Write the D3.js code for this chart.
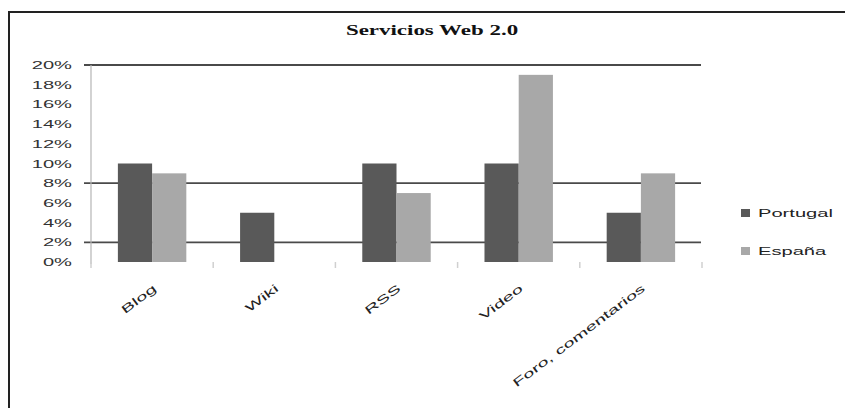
<!DOCTYPE html>
<html>
<head>
<meta charset="utf-8">
<script src="https://cdn.jsdelivr.net/npm/d3@7"></script>
<style>
  html, body { margin: 0; padding: 0; background: #fff; }
  svg { display: block; }
</style>
</head>
<body>
<svg id="chart" width="845" height="408"></svg>
<script>
const title = "Servicios Web 2.0";
const categories = ["Blog", "Wiki", "RSS", "Video", "Foro, comentarios"];
const seriesNames = ["Portugal", "España"];
const portugal = [0.10, 0.05, 0.10, 0.10, 0.05];
const espana = [0.09, 0.00, 0.07, 0.19, 0.09];
const yTicks = [0, 0.02, 0.04, 0.06, 0.08, 0.10, 0.12, 0.14, 0.16, 0.18, 0.20];
const gridValues = [0.02, 0.08, 0.20];
const colors = ["#595959", "#a8a8a8"];

const svg = d3.select("#chart");
const W = 845, H = 408;
svg.append("rect").attr("width", W).attr("height", H).attr("fill", "#fff");

// outer chart border
svg.append("rect")
  .attr("x", 9).attr("y", 12).attr("width", 860).attr("height", 420)
  .attr("fill", "none").attr("stroke", "#222").attr("stroke-width", 2);

const x0 = d3.scaleBand().domain(categories).range([91, 702]).paddingInner(0.44).paddingOuter(0.22);
const x1 = d3.scaleBand().domain(seriesNames).range([0, x0.bandwidth()]);
const y = d3.scaleLinear().domain([0, 0.2]).range([262, 65]);

const SX = 1.75;

// title
svg.append("text")
  .attr("transform", `translate(432,35) scale(1.53,1)`)
  .attr("text-anchor", "middle")
  .attr("font-family", "'Liberation Serif', 'DejaVu Serif', serif")
  .attr("font-weight", "bold")
  .attr("font-size", 15)
  .attr("fill", "#111")
  .text(title);

// gridlines
svg.append("g").selectAll("line").data(gridValues).join("line")
  .attr("x1", 84).attr("x2", 701)
  .attr("y1", d => y(d)).attr("y2", d => y(d))
  .attr("stroke", "#4a4a4a").attr("stroke-width", 1.8);

// y axis line
svg.append("line")
  .attr("x1", 91).attr("x2", 91).attr("y1", y(0.2)).attr("y2", y(0) + 2)
  .attr("stroke", "#b5b5b5").attr("stroke-width", 1.2);

// y labels
svg.append("g").selectAll("text").data(yTicks).join("text")
  .attr("transform", d => `translate(72,${y(d) + 4}) scale(${SX},1)`)
  .attr("text-anchor", "end")
  .attr("font-family", "'Liberation Sans', Arial, sans-serif")
  .attr("font-size", 11.5)
  .attr("fill", "#333")
  .text(d => d3.format(".0%")(d));

// x tick marks (category boundaries)
const bounds = categories.map((c, i) => x0.step() * (i + 1) + 91);
svg.append("g").selectAll("line").data([91, ...bounds]).join("line")
  .attr("x1", d => d).attr("x2", d => d)
  .attr("y1", y(0)).attr("y2", y(0) + 6)
  .attr("stroke", "#d0d0d0").attr("stroke-width", 1.5);

// bars
const seriesData = [portugal, espana];
const groups = svg.append("g").selectAll("g").data(seriesData).join("g")
  .attr("fill", (d, i) => colors[i]);
groups.each(function(vals, si) {
  d3.select(this).selectAll("rect").data(vals).join("rect")
    .attr("x", (v, ci) => x0(categories[ci]) + x1(seriesNames[si]))
    .attr("width", x1.bandwidth())
    .attr("y", v => y(v))
    .attr("height", v => y(0) - y(v));
});

// x labels
svg.append("g").selectAll("text").data(categories).join("text")
  .attr("transform", d => `translate(${x0(d) + x0.bandwidth() / 2 + 5},${y(0) + 28}) rotate(-37) scale(${SX},1)`)
  .attr("text-anchor", "end")
  .attr("font-family", "'Liberation Sans', Arial, sans-serif")
  .attr("font-size", 11.5)
  .attr("fill", "#222")
  .text(d => d);

// legend
const leg = svg.append("g").selectAll("g").data(seriesNames).join("g")
  .attr("transform", (d, i) => `translate(741,${213 + i * 38})`);
leg.append("rect").attr("x", 0).attr("y", -4).attr("width", 9).attr("height", 8)
  .attr("fill", (d, i) => colors[i]);
leg.append("text")
  .attr("transform", `translate(17,4) scale(${SX},1)`)
  .attr("font-family", "'Liberation Sans', Arial, sans-serif")
  .attr("font-size", 11.5)
  .attr("fill", "#222")
  .text(d => d);
</script>
</body>
</html>
